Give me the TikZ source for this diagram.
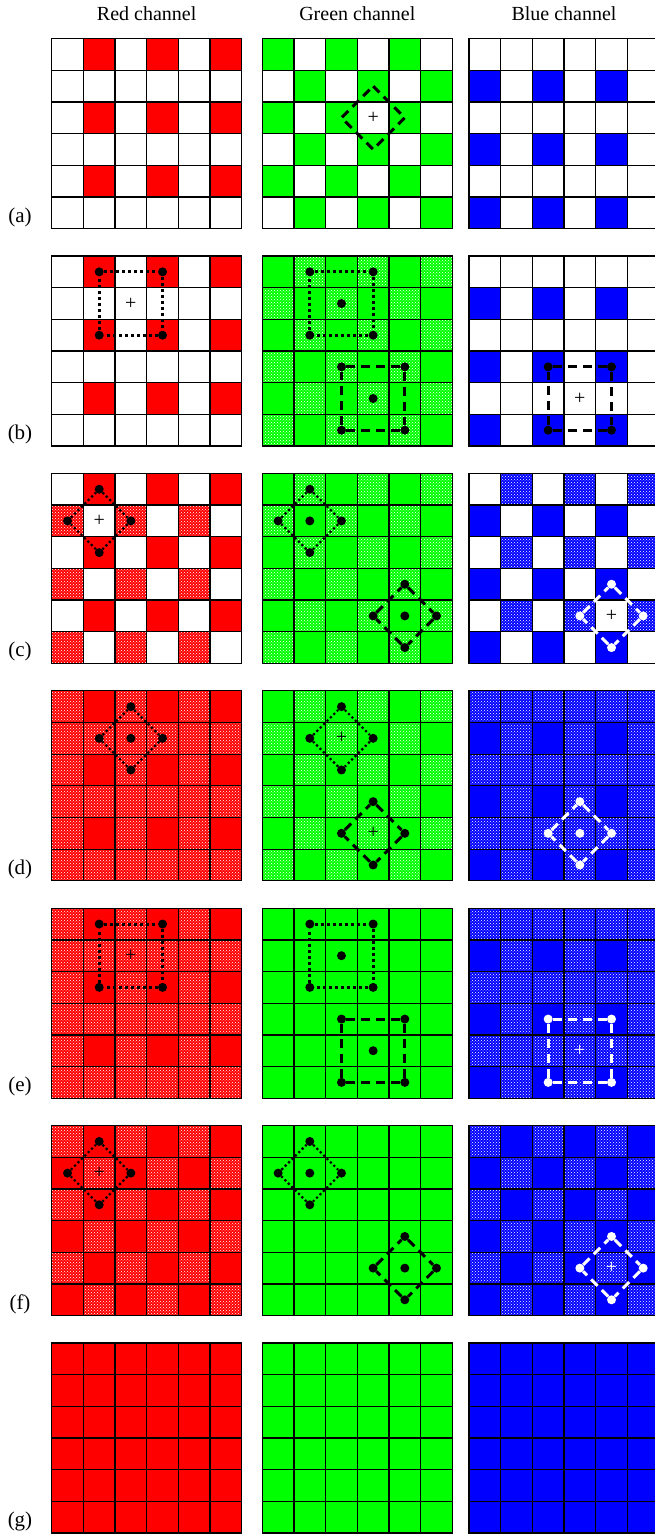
\documentclass[tikz,border=0pt]{standalone}
\usepackage{fontspec}
\setmainfont{Liberation Serif}
\newfontfamily\timesface{Liberation Serif}
\usetikzlibrary{patterns}

\tikzset{
  gridline/.style={black, line width=1.3pt, line cap=rect},
  stipcell/.style={fill=#1, postaction={pattern=crosshatch dots, pattern color=white}},
  blob/.style={circle, fill=black, inner sep=0pt, minimum size=9pt},
  wblob/.style={blob, fill=white},
  plus/.style={inner sep=0pt, font=\timesface\fontsize{20}{20}\selectfont},
  sqdot/.style={line width=3pt, dash pattern=on 3pt off 3pt},
  diadot/.style={line width=2.2pt, dash pattern=on 2.2pt off 2.6pt},
  dashln/.style={line width=3pt, dash pattern=on 9pt off 6pt},
  panel/.style 2 args={shift={(#1,#2)}, x=31.67pt, y=-31.67pt},
  head/.style={font=\timesface\fontsize{20}{24}\selectfont},
  tag/.style={font=\timesface\fontsize{21}{24}\selectfont},
}

% cells of one Bayer site class
\newcommand\atR[1]{\foreach \i in {1,3,5} {\foreach \j in {0,2,4} {\fill[#1] (\i,\j) rectangle ++(1,1);}}}
\newcommand\atB[1]{\foreach \i in {0,2,4} {\foreach \j in {1,3,5} {\fill[#1] (\i,\j) rectangle ++(1,1);}}}
\newcommand\atG[1]{\foreach \i in {0,2,4} {\foreach \j in {0,2,4} {\fill[#1] (\i,\j) rectangle ++(1,1); \fill[#1] (\i+1,\j+1) rectangle ++(1,1);}}}
\newcommand\gridsix{\foreach \k in {0,...,6} {\draw[gridline] (\k,0) -- (\k,6); \draw[gridline] (0,\k) -- (6,\k);}}

% four neighbours joined as a square (#2,#3 = top left cell)
\newcommand\sqpath[5]{%
  \node[#5] (#1a) at (#2+0.5,#3+0.5) {};
  \node[#5] (#1b) at (#2+2.5,#3+0.5) {};
  \node[#5] (#1c) at (#2+2.5,#3+2.5) {};
  \node[#5] (#1d) at (#2+0.5,#3+2.5) {};
  \draw[#4] (#1a) -- (#1b) -- (#1c) -- (#1d) -- (#1a);
}
% four neighbours joined as a diamond (#2,#3 = centre cell)
\newcommand\diapath[5]{%
  \node[#5] (#1a) at (#2+0.5,#3-0.5) {};
  \node[#5] (#1b) at (#2+1.5,#3+0.5) {};
  \node[#5] (#1c) at (#2+0.5,#3+1.5) {};
  \node[#5] (#1d) at (#2-0.5,#3+0.5) {};
  \draw[#4] (#1a) -- (#1b) -- (#1c) -- (#1d) -- (#1a);
}

\begin{document}
\begin{tikzpicture}[x=1pt, y=-1pt]
  \useasboundingbox (0,0) rectangle (655,1534);

  \node[head] (hR) at (146.7,14) {Red channel};
  \node[head] (hG) at (357.3,14) {Green channel};
  \node[head] (hB) at (564,14) {Blue channel};
  \foreach \t [count=\k from 0] in {a,...,g}
    \node[tag] (t\t) at (20,217+217.4*\k) {(\t)};

  % (a)
  \begin{scope}[panel={51.7}{38.6}]
    \atR{red}
    \gridsix
  \end{scope}
  \begin{scope}[panel={262.3}{38.6}]
    \atG{green}
    \gridsix
    \diapath{aG}{3}{2}{dashln}{coordinate}
    \node[plus] (aGx) at (3.5,2.5) {+};
  \end{scope}
  \begin{scope}[panel={469}{38.6}]
    \atB{blue}
    \gridsix
  \end{scope}

  % (b)
  \begin{scope}[panel={51.7}{256}]
    \atR{red}
    \gridsix
    \sqpath{bR}{1}{0}{sqdot}{blob}
    \node[plus] (bRx) at (2.5,1.5) {+};
  \end{scope}
  \begin{scope}[panel={262.3}{256}]
    \atG{green} \atR{stipcell=green} \atB{stipcell=green}
    \gridsix
    \sqpath{bG}{1}{0}{sqdot}{blob}
    \node[blob] (bGx) at (2.5,1.5) {};
    \sqpath{bH}{2}{3}{dashln}{blob}
    \node[blob] (bHx) at (3.5,4.5) {};
  \end{scope}
  \begin{scope}[panel={469}{256}]
    \atB{blue}
    \gridsix
    \sqpath{bB}{2}{3}{dashln}{blob}
    \node[plus] (bBx) at (3.5,4.5) {+};
  \end{scope}

  % (c)
  \begin{scope}[panel={51.7}{473.4}]
    \atR{red} \atB{stipcell=red}
    \gridsix
    \diapath{cR}{1}{1}{diadot}{blob}
    \node[plus] (cRx) at (1.5,1.5) {+};
  \end{scope}
  \begin{scope}[panel={262.3}{473.4}]
    \atG{green} \atR{stipcell=green} \atB{stipcell=green}
    \gridsix
    \diapath{cG}{1}{1}{diadot}{blob}
    \node[blob] (cGx) at (1.5,1.5) {};
    \diapath{cH}{4}{4}{dashln}{blob}
    \node[blob] (cHx) at (4.5,4.5) {};
  \end{scope}
  \begin{scope}[panel={469}{473.4}]
    \atB{blue} \atR{stipcell=blue}
    \gridsix
    \diapath{cB}{4}{4}{dashln,white}{wblob}
    \node[plus] (cBx) at (4.5,4.5) {+};
  \end{scope}

  % (d)
  \begin{scope}[panel={51.7}{690.8}]
    \atR{red} \atB{stipcell=red} \atG{stipcell=red}
    \gridsix
    \diapath{dR}{2}{1}{diadot}{blob}
    \node[blob] (dRx) at (2.5,1.5) {};
  \end{scope}
  \begin{scope}[panel={262.3}{690.8}]
    \atG{green} \atR{stipcell=green} \atB{stipcell=green}
    \gridsix
    \diapath{dG}{2}{1}{diadot}{blob}
    \node[plus] (dGx) at (2.5,1.5) {+};
    \diapath{dH}{3}{4}{dashln}{blob}
    \node[plus] (dHx) at (3.5,4.5) {+};
  \end{scope}
  \begin{scope}[panel={469}{690.8}]
    \atB{blue} \atR{stipcell=blue} \atG{stipcell=blue}
    \gridsix
    \diapath{dB}{3}{4}{dashln,white}{wblob}
    \node[wblob] (dBx) at (3.5,4.5) {};
  \end{scope}

  % (e)
  \begin{scope}[panel={51.7}{908.2}]
    \atR{red} \atB{stipcell=red} \atG{stipcell=red}
    \gridsix
    \sqpath{eR}{1}{0}{sqdot}{blob}
    \node[plus] (eRx) at (2.5,1.5) {+};
  \end{scope}
  \begin{scope}[panel={262.3}{908.2}]
    \fill[green] (0,0) rectangle (6,6);
    \gridsix
    \sqpath{eG}{1}{0}{sqdot}{blob}
    \node[blob] (eGx) at (2.5,1.5) {};
    \sqpath{eH}{2}{3}{dashln}{blob}
    \node[blob] (eHx) at (3.5,4.5) {};
  \end{scope}
  \begin{scope}[panel={469}{908.2}]
    \atB{blue} \atR{stipcell=blue} \atG{stipcell=blue}
    \gridsix
    \sqpath{eB}{2}{3}{dashln,white}{wblob}
    \node[plus, white] (eBx) at (3.5,4.5) {+};
  \end{scope}

  % (f)
  \begin{scope}[panel={51.7}{1125.6}]
    \atR{red} \atB{red} \atG{stipcell=red}
    \gridsix
    \diapath{fR}{1}{1}{diadot}{blob}
    \node[plus] (fRx) at (1.5,1.5) {+};
  \end{scope}
  \begin{scope}[panel={262.3}{1125.6}]
    \fill[green] (0,0) rectangle (6,6);
    \gridsix
    \diapath{fG}{1}{1}{diadot}{blob}
    \node[blob] (fGx) at (1.5,1.5) {};
    \diapath{fH}{4}{4}{dashln}{blob}
    \node[blob] (fHx) at (4.5,4.5) {};
  \end{scope}
  \begin{scope}[panel={469}{1125.6}]
    \atB{blue} \atR{blue} \atG{stipcell=blue}
    \gridsix
    \diapath{fB}{4}{4}{dashln,white}{wblob}
    \node[plus, white] (fBx) at (4.5,4.5) {+};
  \end{scope}

  % (g)
  \begin{scope}[panel={51.7}{1343}]
    \fill[red] (0,0) rectangle (6,6);
    \gridsix
  \end{scope}
  \begin{scope}[panel={262.3}{1343}]
    \fill[green] (0,0) rectangle (6,6);
    \gridsix
  \end{scope}
  \begin{scope}[panel={469}{1343}]
    \fill[blue] (0,0) rectangle (6,6);
    \gridsix
  \end{scope}
\end{tikzpicture}
\end{document}
